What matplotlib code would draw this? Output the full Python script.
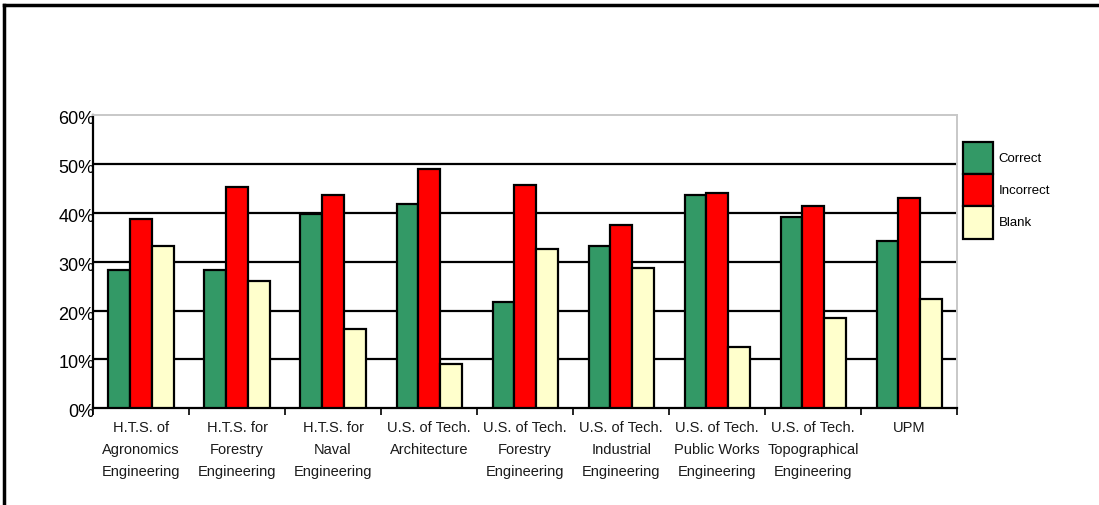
import matplotlib
matplotlib.use("Agg")
import matplotlib.pyplot as plt
import matplotlib.transforms as mtransforms
import numpy as np
from matplotlib.lines import Line2D

plt.rcParams['font.family'] = ['Liberation Sans', 'DejaVu Sans']

schools = [
    "H.T.S. of\nAgronomics\nEngineering",
    "H.T.S. for\nForestry\nEngineering",
    "H.T.S. for\nNaval\nEngineering",
    "U.S. of Tech.\nArchitecture",
    "U.S. of Tech.\nForestry\nEngineering",
    "U.S. of Tech.\nIndustrial\nEngineering",
    "U.S. of Tech.\nPublic Works\nEngineering",
    "U.S. of Tech.\nTopographical\nEngineering",
    "UPM",
]
correct = [28.3, 28.3, 39.8, 41.9, 21.7, 33.3, 43.6, 39.2, 34.3]
incorrect = [38.8, 45.2, 43.6, 48.9, 45.7, 37.5, 44.1, 41.4, 43.0]
blank = [33.3, 26.1, 16.3, 9.1, 32.6, 28.8, 12.5, 18.4, 22.3]

series = [("Correct", correct, "#339966"),
          ("Incorrect", incorrect, "#ff0000"),
          ("Blank", blank, "#ffffcc")]

fig = plt.figure(figsize=(10.99, 5.05), dpi=100)
ax = fig.add_axes([0.0846, 0.1915, 0.7864, 0.5805])

x = np.arange(len(schools))
w = 0.226
for i, (name, vals, col) in enumerate(series):
    ax.bar(x + (i - 1) * w, vals, width=w, color=col, edgecolor="black",
           linewidth=1.6, label=name, zorder=3)

ax.set_xlim(-0.5, len(schools) - 0.5)
ax.set_ylim(0, 60)
ax.set_yticks(np.arange(0, 61, 10))
ax.set_yticklabels([f"{v}%" for v in range(0, 61, 10)], fontsize=13)
ax.tick_params(axis="y", length=0, pad=-1)
shift = mtransforms.ScaledTranslation(0, -2.5 / 100, fig.dpi_scale_trans)
for lab in ax.get_yticklabels():
    lab.set_transform(lab.get_transform() + shift)

for v in range(10, 60, 10):
    ax.axhline(v, color="black", linewidth=1.6, zorder=1)

ax.set_xticks(np.arange(-0.5, len(schools), 1.0))
ax.set_xticklabels([])
ax.set_xticks(x, minor=True)
ax.set_xticklabels(schools, minor=True, fontsize=10.5, linespacing=1.75,
                   color="#1a1a1a")
ax.tick_params(axis="x", which="major", length=5, width=1.2, direction="out")
ax.tick_params(axis="x", which="minor", length=0, pad=9)

for side in ("left", "bottom"):
    ax.spines[side].set_color("black")
    ax.spines[side].set_linewidth(1.6)
for side in ("top", "right"):
    ax.spines[side].set_color("#c8c8c8")
    ax.spines[side].set_linewidth(1.4)

leg = ax.legend(loc="upper left", bbox_to_anchor=(963 / 1099, 1 - 141.7 / 505),
                bbox_transform=fig.transFigure, frameon=False,
                fontsize=9.5, handlelength=2.3, handleheight=3.4,
                labelspacing=0, handletextpad=0.4, borderaxespad=0,
                borderpad=0)

# outer frame along the top and left edges
fig.add_artist(Line2D([0.004, 1.0], [0.99, 0.99], transform=fig.transFigure,
                      color="black", linewidth=2.5))
fig.add_artist(Line2D([0.004, 0.004], [0.0, 0.99], transform=fig.transFigure,
                      color="black", linewidth=2.5))

fig.savefig("out.png", dpi=100)
